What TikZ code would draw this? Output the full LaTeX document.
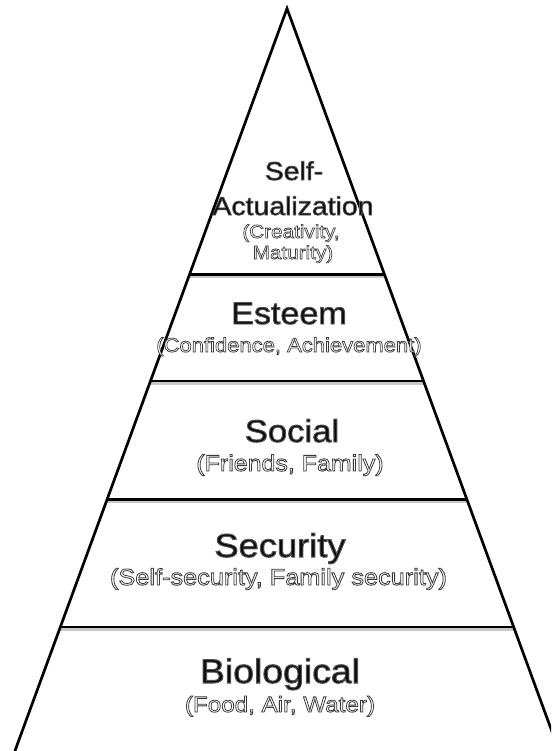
\documentclass[tikz,border=0pt]{standalone}
\usepackage{fontspec}
\setmainfont{Liberation Sans}[FakeStretch=1.1]
\usetikzlibrary{calc}
% one copy of each text: fill colour and stroke (outline) colour set apart
\newcommand\headtxt[1]{{\addfontfeature{FakeBold=3}\special{pdf:bcolor [0.04] [0.33]}#1\special{pdf:ecolor}}}
\newcommand\subtxt[1]{{\addfontfeature{FakeBold=3.5}\special{pdf:bcolor [1] [0.22]}#1\special{pdf:ecolor}}}
\tikzset{
  pyr/.style={line width=2.7pt, black, line join=miter},
  divline/.style={line width=2.7pt, black},
  divshadow/.style={line width=2.4pt, black!22},
  lbl/.style={anchor=base, inner sep=0pt, outer sep=0pt},
}
\begin{document}
\begin{tikzpicture}[x=1pt,y=-1pt]
\useasboundingbox (0,0) rectangle (551,751);
\fill[white] (0,0) rectangle (551,751);
\clip (0,0) rectangle (551,751);
\coordinate (apex) at (287,8.5);
\coordinate (bl) at (14.9,751);
\coordinate (br) at (559.1,751);
\foreach \n/\t in {1/266, 2/372.5, 3/491, 4/618.5} {
  \coordinate (l\n) at ($(apex)!\t/742.5!(bl)$);
  \coordinate (r\n) at ($(apex)!\t/742.5!(br)$);
}
\foreach \n in {1,2,3,4} {
  \draw[divshadow] ([yshift=-2.6pt]l\n) -- ([yshift=-2.6pt]r\n);
}
\draw[pyr] (bl) -- (apex) -- (br);
\foreach \n in {1,2,3,4} {
  \draw[divline] (l\n) -- (r\n);
}
% Self-Actualization
\node[lbl, font=\fontsize{25.8}{26}\selectfont] (sa1) at (294,180) {\headtxt{Self-}};
\node[lbl, font=\fontsize{25.8}{26}\selectfont] (sa2) at (293,215) {\headtxt{Actualization}};
\node[lbl, font=\fontsize{18.8}{19}\selectfont] (sa3) at (291,238) {\subtxt{(Creativity,}};
\node[lbl, font=\fontsize{18.8}{19}\selectfont] (sa4) at (293,259) {\subtxt{Maturity)}};
% Esteem
\node[lbl, font=\fontsize{31}{31}\selectfont] (es1) at (289,324) {\headtxt{Esteem}};
\node[lbl, font=\fontsize{20}{20}\selectfont] (es2) at (289,352) {\subtxt{(Confidence, Achievement)}};
% Social
\node[lbl, font=\fontsize{31.5}{32}\selectfont] (so1) at (292,442) {\headtxt{Social}};
\node[lbl, font=\fontsize{22.7}{23}\selectfont] (so2) at (290,471) {\subtxt{(Friends, Family)}};
% Security
\node[lbl, font=\fontsize{33}{33}\selectfont] (se1) at (280,557) {\headtxt{Security}};
\node[lbl, font=\fontsize{23}{23}\selectfont] (se2) at (278.5,585) {\subtxt{(Self-security, Family security)}};
% Biological
\node[lbl, font=\fontsize{34}{34}\selectfont] (bi1) at (280,683) {\headtxt{Biological}};
\node[lbl, font=\fontsize{22}{22}\selectfont] (bi2) at (280,712) {\subtxt{(Food, Air, Water)}};
\end{tikzpicture}
\end{document}
